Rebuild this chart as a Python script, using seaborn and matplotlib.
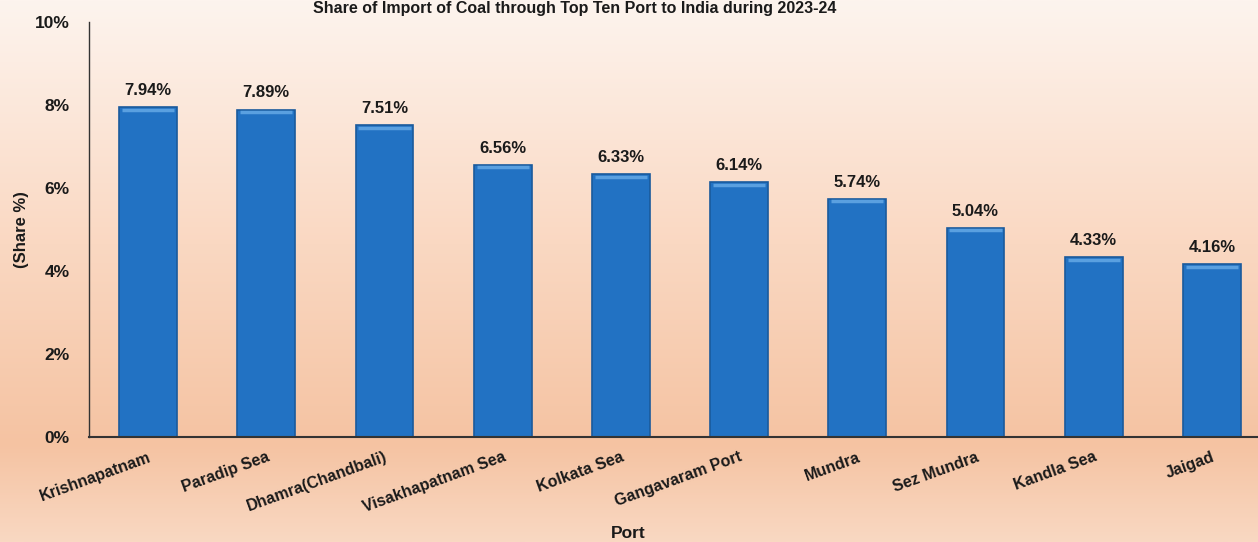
import numpy as np
import pandas as pd
import matplotlib
matplotlib.use("Agg")
import matplotlib.pyplot as plt
import seaborn as sns
from matplotlib.colors import LinearSegmentedColormap

ports = ["Krishnapatnam", "Paradip Sea", "Dhamra(Chandbali)", "Visakhapatnam Sea",
         "Kolkata Sea", "Gangavaram Port", "Mundra", "Sez Mundra", "Kandla Sea", "Jaigad"]
shares = [7.94, 7.89, 7.51, 6.56, 6.33, 6.14, 5.74, 5.04, 4.33, 4.16]
yticks = [0, 2, 4, 6, 8, 10]

df = pd.DataFrame({"Port": ports, "Share": shares})

sns.set_theme(style="white")
plt.rcParams['font.family'] = ['Liberation Sans Narrow', 'Liberation Sans', 'DejaVu Sans']
plt.rcParams['font.weight'] = 'bold'

W, H = 1258, 542
fig = plt.figure(figsize=(W / 100, H / 100), dpi=100)

# peach gradient background
bg = fig.add_axes([0, 0, 1, 1], zorder=-10)
cmap = LinearSegmentedColormap.from_list(
    "peach", [(0.0, "#fdf4ee"), (0.45, "#fad8c2"), (0.82, "#f5c3a2"), (1.0, "#f9d8c2")])
grad = np.linspace(0, 1, 256).reshape(-1, 1)
bg.imshow(grad, aspect="auto", cmap=cmap, extent=[0, 1, 1, 0])
bg.axis("off")

# axes: left 90px, 0% at y=437, 10% at y=22; slot width ~118px (right edge beyond image)
left = 89 / W
bottom = (H - 437) / H
height = (437 - 22) / H
width = (118.2 * 10) / W
ax = fig.add_axes([left, bottom, width, height])
ax.patch.set_alpha(0)

sns.barplot(data=df, x="Port", y="Share", ax=ax, color="#2272c3", width=0.49,
            edgecolor="#1a5a9c", linewidth=1.2, saturation=1)

# light bevel along the top of each bar
for i, v in enumerate(shares):
    ax.plot([i - 0.22, i + 0.22], [v - 0.06, v - 0.06], color="#5aa0e0", lw=2.5,
            solid_capstyle="butt")
    ax.text(i, v + 0.22, f"{v:.2f}%", ha="center", va="bottom",
            fontsize=12, fontweight="bold", color="#1a1a1a")

ax.set_ylim(0, 10)
ax.set_xlim(-0.5, 9.5)
ax.set_yticks(yticks)
ax.set_yticklabels([f"{t}%" for t in yticks], fontsize=12.5, fontweight="bold", color="#1a1a1a")
ax.set_xticks(range(len(ports)))
ax.set_xticklabels(ports, rotation=20, ha="right", rotation_mode="anchor",
                   fontsize=11.5, fontweight="bold", color="#1a1a1a")
ax.tick_params(axis="x", pad=9, length=0)
ax.tick_params(axis="y", pad=14, length=0)
ax.set_xlabel("")
ax.set_ylabel("")
for s in ["top", "right"]:
    ax.spines[s].set_visible(False)
ax.spines["left"].set_color("#333333")
ax.spines["left"].set_linewidth(1.0)
ax.spines["bottom"].set_color("#333333")
ax.spines["bottom"].set_linewidth(1.5)

fig.text(575 / W, 1 - 8 / H, "Share of Import of Coal through Top Ten Port to India during 2023-24",
         ha="center", va="center", fontsize=11.5, fontweight="bold", color="#1a1a1a")
fig.text(22 / W, 1 - 230 / H, "(Share %)", rotation=90, ha="center", va="center",
         fontsize=12, fontweight="bold", color="#1a1a1a")
fig.text(628 / W, 1 - 533 / H, "Port", ha="center", va="center",
         fontsize=12.5, fontweight="bold", color="#1a1a1a")

fig.savefig("out.png", dpi=100)
